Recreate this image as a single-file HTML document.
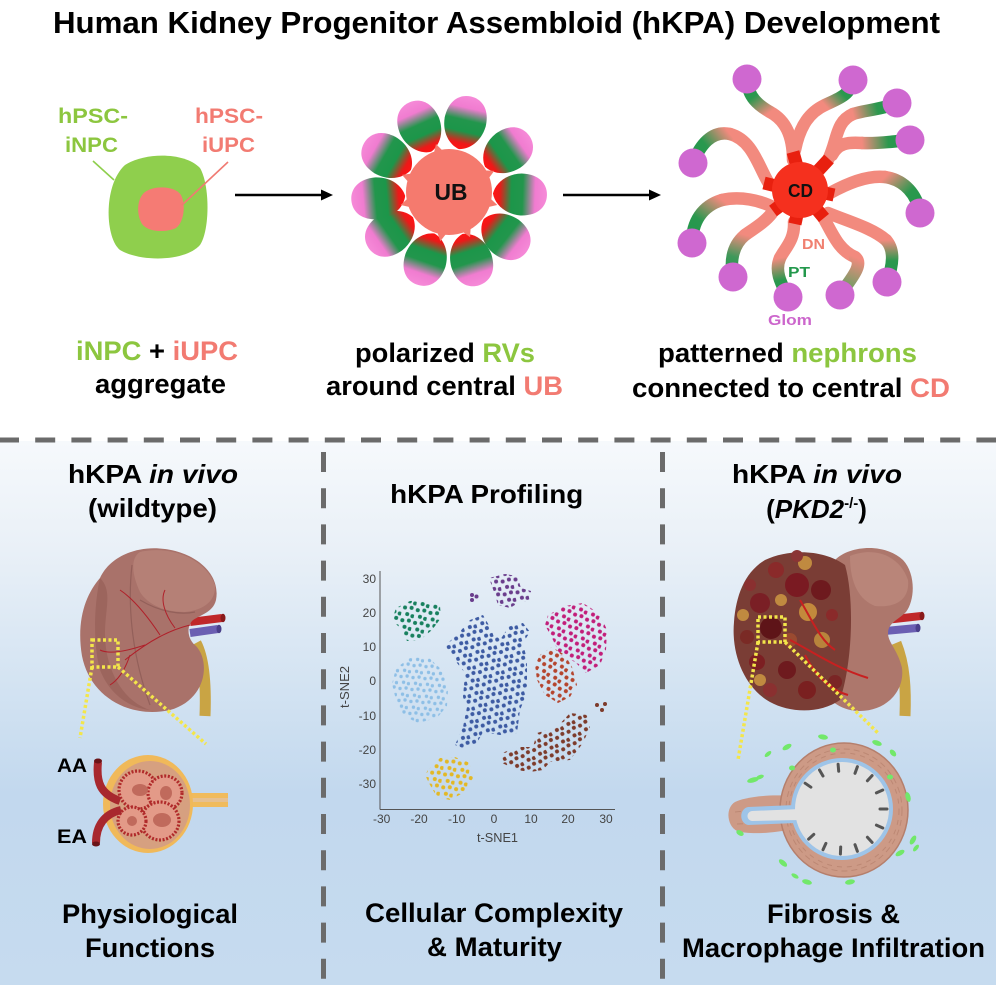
<!DOCTYPE html>
<html><head><meta charset="utf-8"><style>
html,body{margin:0;padding:0;background:#fff;}
svg{display:block;}
text{font-family:"Liberation Sans",Arial,sans-serif;}
</style></head><body>
<svg width="996" height="996" viewBox="0 0 996 996" xmlns="http://www.w3.org/2000/svg">
<defs>
 <linearGradient id="bg" x1="0" y1="0" x2="0" y2="1">
  <stop offset="0" stop-color="#f6f9fc"/><stop offset="0.2" stop-color="#e9f0f7"/>
  <stop offset="0.45" stop-color="#d3e3f2"/><stop offset="0.65" stop-color="#c2d8ee"/>
  <stop offset="1" stop-color="#c6dbef"/>
 </linearGradient>
 <linearGradient id="pet" gradientUnits="userSpaceOnUse" x1="44" y1="0" x2="98" y2="0">
  <stop offset="0" stop-color="#ff1414"/><stop offset="0.12" stop-color="#ee1818"/>
  <stop offset="0.34" stop-color="#1c964a"/><stop offset="0.55" stop-color="#22964c"/>
  <stop offset="0.78" stop-color="#f07cd0"/><stop offset="1" stop-color="#f68ad8"/>
 </linearGradient>
 <linearGradient id="t1" gradientUnits="userSpaceOnUse" x1="770" y1="112" x2="747" y2="80"><stop offset="0" stop-color="#f28a7e"/><stop offset="0.55" stop-color="#2a984e"/><stop offset="1" stop-color="#22984c"/></linearGradient>
 <linearGradient id="t2" gradientUnits="userSpaceOnUse" x1="825" y1="105" x2="853" y2="80"><stop offset="0" stop-color="#f28a7e"/><stop offset="0.55" stop-color="#2a984e"/><stop offset="1" stop-color="#22984c"/></linearGradient>
 <linearGradient id="t3" gradientUnits="userSpaceOnUse" x1="853" y1="114" x2="897" y2="103"><stop offset="0" stop-color="#f28a7e"/><stop offset="0.55" stop-color="#2a984e"/><stop offset="1" stop-color="#22984c"/></linearGradient>
 <linearGradient id="t4" gradientUnits="userSpaceOnUse" x1="862" y1="143" x2="910" y2="140"><stop offset="0" stop-color="#f28a7e"/><stop offset="0.55" stop-color="#2a984e"/><stop offset="1" stop-color="#22984c"/></linearGradient>
 <linearGradient id="t5" gradientUnits="userSpaceOnUse" x1="730" y1="134" x2="693" y2="163"><stop offset="0" stop-color="#f28a7e"/><stop offset="0.55" stop-color="#2a984e"/><stop offset="1" stop-color="#22984c"/></linearGradient>
 <linearGradient id="t6" gradientUnits="userSpaceOnUse" x1="885" y1="177" x2="920" y2="213"><stop offset="0" stop-color="#f28a7e"/><stop offset="0.55" stop-color="#2a984e"/><stop offset="1" stop-color="#22984c"/></linearGradient>
 <linearGradient id="t7" gradientUnits="userSpaceOnUse" x1="722" y1="200" x2="692" y2="243"><stop offset="0" stop-color="#f28a7e"/><stop offset="0.55" stop-color="#2a984e"/><stop offset="1" stop-color="#22984c"/></linearGradient>
 <linearGradient id="t8" gradientUnits="userSpaceOnUse" x1="745" y1="235" x2="733" y2="277"><stop offset="0" stop-color="#f28a7e"/><stop offset="0.55" stop-color="#3f985a"/><stop offset="1" stop-color="#22984c"/></linearGradient>
 <linearGradient id="t9" gradientUnits="userSpaceOnUse" x1="780" y1="258" x2="788" y2="297"><stop offset="0" stop-color="#f28a7e"/><stop offset="0.55" stop-color="#2a984e"/><stop offset="1" stop-color="#22984c"/></linearGradient>
 <linearGradient id="t10" gradientUnits="userSpaceOnUse" x1="855" y1="257" x2="840" y2="295"><stop offset="0" stop-color="#f28a7e"/><stop offset="0.6" stop-color="#8a9a6a"/><stop offset="1" stop-color="#5a985a"/></linearGradient>
 <linearGradient id="t11" gradientUnits="userSpaceOnUse" x1="886" y1="240" x2="887" y2="282"><stop offset="0" stop-color="#f28a7e"/><stop offset="0.5" stop-color="#2a984e"/><stop offset="1" stop-color="#22984c"/></linearGradient>

 <pattern id="pTeal" width="13" height="13" patternUnits="userSpaceOnUse" patternTransform="rotate(12)"><g fill="#17805e"><circle cx="2.5" cy="3" r="2"/><circle cx="9" cy="2" r="2"/><circle cx="6" cy="9" r="2"/><circle cx="11.5" cy="10" r="2"/></g></pattern>
 <pattern id="pPurp" width="13" height="13" patternUnits="userSpaceOnUse" patternTransform="rotate(-9)"><g fill="#6a3d8c"><circle cx="2.5" cy="3" r="2"/><circle cx="9" cy="2" r="2"/><circle cx="6" cy="9" r="2"/><circle cx="11.5" cy="10" r="2"/></g></pattern>
 <pattern id="pMag" width="13" height="13" patternUnits="userSpaceOnUse" patternTransform="rotate(23)"><g fill="#c21e7a"><circle cx="2.5" cy="3" r="2"/><circle cx="9" cy="2" r="2"/><circle cx="6" cy="9" r="2"/><circle cx="11.5" cy="10" r="2"/></g></pattern>
 <pattern id="pLb" width="12" height="12" patternUnits="userSpaceOnUse" patternTransform="rotate(5)"><g fill="#8ebfe6"><circle cx="2.5" cy="3" r="1.7"/><circle cx="8.5" cy="2" r="1.7"/><circle cx="5.5" cy="8.5" r="1.7"/><circle cx="10.5" cy="9.5" r="1.7"/></g></pattern>
 <pattern id="pNavy" width="13" height="13" patternUnits="userSpaceOnUse" patternTransform="rotate(-17)"><g fill="#3d5ba3"><circle cx="2.5" cy="3" r="2"/><circle cx="9" cy="2" r="2"/><circle cx="6" cy="9" r="2"/><circle cx="11.5" cy="10" r="2"/></g></pattern>
 <pattern id="pRust" width="13" height="13" patternUnits="userSpaceOnUse" patternTransform="rotate(31)"><g fill="#b5452e"><circle cx="2.5" cy="3" r="2"/><circle cx="9" cy="2" r="2"/><circle cx="6" cy="9" r="2"/><circle cx="11.5" cy="10" r="2"/></g></pattern>
 <pattern id="pBrown" width="13" height="13" patternUnits="userSpaceOnUse" patternTransform="rotate(-28)"><g fill="#7d3b2b"><circle cx="2.5" cy="3" r="2"/><circle cx="9" cy="2" r="2"/><circle cx="6" cy="9" r="2"/><circle cx="11.5" cy="10" r="2"/></g></pattern>
 <pattern id="pYel" width="13" height="13" patternUnits="userSpaceOnUse" patternTransform="rotate(8)"><g fill="#e3b824"><circle cx="2.5" cy="3" r="2"/><circle cx="9" cy="2" r="2"/><circle cx="6" cy="9" r="2"/><circle cx="11.5" cy="10" r="2"/></g></pattern>
 <path id="petal" d="M44,0 C46,-10 56,-20 72,-21 C90,-21 98,-11 98,0 C98,11 90,21 72,21 C56,20 46,10 44,0Z"/>
</defs>

<!-- backgrounds -->
<rect x="0" y="0" width="996" height="996" fill="#ffffff"/>
<rect x="0" y="441" width="996" height="544" fill="url(#bg)"/>

<!-- dashed separators -->
<line x1="-1" y1="440" x2="996" y2="440" stroke="#6b6b6b" stroke-width="5" stroke-dasharray="20 16.2"/>
<line x1="323.5" y1="452" x2="323.5" y2="980" stroke="#6b6b6b" stroke-width="5" stroke-dasharray="20 16.2"/>
<line x1="662.5" y1="452" x2="662.5" y2="980" stroke="#6b6b6b" stroke-width="5" stroke-dasharray="20 16.2"/>

<!-- Title -->
<text x="496.5" y="33" font-size="31" font-weight="bold" text-anchor="middle" textLength="887" lengthAdjust="spacingAndGlyphs" fill="#000">Human Kidney Progenitor Assembloid (hKPA) Development</text>

<!-- ===== Top left: aggregate ===== -->
<path d="M125,165 C145,152 185,152 200,168 C210,185 210,230 200,245 C185,262 140,262 120,250 C105,238 103,185 125,165Z" fill="#8fcf4d"/>
<path d="M145,192 C155,185 175,186 181,195 C186,205 184,222 176,228 C165,233 148,232 142,224 C136,214 137,198 145,192Z" fill="#f57b74"/>
<line x1="93" y1="161" x2="114" y2="180" stroke="#8fcf4d" stroke-width="1.6"/>
<line x1="228" y1="162" x2="182" y2="205" stroke="#f07a72" stroke-width="1.6"/>
<text x="93" y="123" font-size="21" font-weight="bold" text-anchor="middle" fill="#8cc63f" textLength="70" lengthAdjust="spacingAndGlyphs">hPSC-</text>
<text x="91.5" y="152" font-size="21" font-weight="bold" text-anchor="middle" fill="#8cc63f" textLength="53" lengthAdjust="spacingAndGlyphs">iNPC</text>
<text x="229" y="123" font-size="21" font-weight="bold" text-anchor="middle" fill="#f27b72" textLength="68" lengthAdjust="spacingAndGlyphs">hPSC-</text>
<text x="228.5" y="152" font-size="21" font-weight="bold" text-anchor="middle" fill="#f27b72" textLength="53" lengthAdjust="spacingAndGlyphs">iUPC</text>

<!-- arrows -->
<line x1="235" y1="195" x2="324" y2="195" stroke="#000" stroke-width="2.6"/>
<polygon points="321,189.5 333,195 321,200.5" fill="#000"/>
<line x1="563" y1="195" x2="652" y2="195" stroke="#000" stroke-width="2.6"/>
<polygon points="649,189.5 661,195 649,200.5" fill="#000"/>

<!-- ===== Top middle: RV flower ===== -->
<g transform="translate(449,192)" fill="url(#pet)">
  <use href="#petal" transform="rotate(-114)"/>
  <use href="#petal" transform="rotate(-77)"/>
  <use href="#petal" transform="rotate(-35)"/>
  <use href="#petal" transform="rotate(2)"/>
  <use href="#petal" transform="rotate(38)"/>
  <use href="#petal" transform="rotate(72)"/>
  <use href="#petal" transform="rotate(109)"/>
  <use href="#petal" transform="rotate(145)"/>
  <use href="#petal" transform="rotate(175)"/>
  <use href="#petal" transform="rotate(210)"/>
</g>
<g fill="#f57a6e">
 <circle cx="449" cy="192" r="43"/>
 <polygon points="433.4,155.2 436,144 444.1,152.3"/>
 <polygon points="482.5,170.2 494.3,170.9 487.2,180.3"/>
 <polygon points="488.7,196.9 497.3,205 485.8,207.6"/>
 <polygon points="470.8,225.6 470.1,237.3 460.7,230.2"/>
 <polygon points="447.6,232 440.3,241.2 436.6,230"/>
 <polygon points="412.2,207.6 400.7,205 409.3,196.9"/>
 <polygon points="409.9,183.7 402,174.9 413.7,173.2"/>
</g>
<text x="451" y="200" font-size="23" font-weight="bold" text-anchor="middle" fill="#111" textLength="33" lengthAdjust="spacingAndGlyphs">UB</text>

<!-- ===== Top right: nephrons around CD ===== -->
<g fill="none" stroke-width="12.5" stroke-linecap="round">
 <g stroke="#f28a7e">
  <path d="M793,160 C793,135 785,120 770,112"/>
  <path d="M795,150 C800,125 810,112 825,105"/>
  <path d="M828,160 C838,140 835,122 853,114"/>
  <path d="M832,155 C838,143 848,142 862,143"/>
  <path d="M768,182 C758,165 752,140 730,134"/>
  <path d="M830,193 C848,183 868,175 885,177"/>
  <path d="M775,208 C760,200 740,196 722,200"/>
  <path d="M772,213 C765,222 755,228 745,235"/>
  <path d="M794,222 C795,240 785,248 780,258"/>
  <path d="M823,217 C832,232 838,250 855,257"/>
  <path d="M828,213 C850,222 872,228 886,240"/>
 </g>
 <path stroke="url(#t1)" d="M770,112 C758,105 748,97 747,80"/>
 <path stroke="url(#t2)" d="M825,105 C840,98 850,95 853,80"/>
 <path stroke="url(#t3)" d="M853,114 C865,110 880,110 897,103"/>
 <path stroke="url(#t4)" d="M862,143 C878,144 895,141 910,140"/>
 <path stroke="url(#t5)" d="M730,134 C712,130 700,145 693,163"/>
 <path stroke="url(#t6)" d="M885,177 C905,180 917,195 920,213"/>
 <path stroke="url(#t7)" d="M722,200 C702,206 692,222 692,243"/>
 <path stroke="url(#t8)" d="M745,235 C733,245 730,260 733,277"/>
 <path stroke="url(#t9)" d="M780,258 C774,272 782,285 788,297"/>
 <path stroke="url(#t10)" d="M855,257 C865,265 848,282 840,295"/>
 <path stroke="url(#t11)" d="M886,240 C895,250 893,265 887,282"/>
</g>
<g stroke="#e8200f" stroke-width="13" stroke-linecap="butt">
 <line x1="798" y1="170" x2="793" y2="152"/>
 <line x1="816" y1="173" x2="829" y2="159"/>
 <line x1="820" y1="192" x2="834" y2="195"/>
 <line x1="814" y1="206" x2="824" y2="218"/>
 <line x1="798" y1="210" x2="795" y2="224"/>
 <line x1="785" y1="202" x2="773" y2="211"/>
 <line x1="780" y1="187" x2="764" y2="183"/>
</g>
<circle cx="800" cy="190" r="28" fill="#f5301e"/>
<text x="800.5" y="197" font-size="18" font-weight="bold" text-anchor="middle" fill="#111" textLength="25" lengthAdjust="spacingAndGlyphs">CD</text>
<g fill="#cf68d0">
 <circle cx="747" cy="79" r="14.5"/><circle cx="853" cy="80" r="14.5"/>
 <circle cx="897" cy="103" r="14.5"/><circle cx="910" cy="140" r="14.5"/>
 <circle cx="693" cy="163" r="14.5"/><circle cx="920" cy="213" r="14.5"/>
 <circle cx="692" cy="243" r="14.5"/><circle cx="733" cy="277" r="14.5"/>
 <circle cx="788" cy="297" r="14.5"/><circle cx="840" cy="295" r="14.5"/>
 <circle cx="887" cy="282" r="14.5"/>
</g>
<text x="813.5" y="249" font-size="15" font-weight="bold" text-anchor="middle" fill="#f08070" textLength="23" lengthAdjust="spacingAndGlyphs">DN</text>
<text x="799" y="277" font-size="15" font-weight="bold" text-anchor="middle" fill="#23984c" textLength="22" lengthAdjust="spacingAndGlyphs">PT</text>
<text x="790" y="325" font-size="15" font-weight="bold" text-anchor="middle" fill="#cc66cc" textLength="44" lengthAdjust="spacingAndGlyphs">Glom</text>

<!-- Top captions -->
<text x="157" y="360" font-size="27" font-weight="bold" text-anchor="middle" textLength="162" lengthAdjust="spacingAndGlyphs"><tspan fill="#8cc63f">iNPC</tspan><tspan fill="#000"> + </tspan><tspan fill="#f27b72">iUPC</tspan></text>
<text x="160.5" y="393" font-size="27" font-weight="bold" text-anchor="middle" fill="#000" textLength="131" lengthAdjust="spacingAndGlyphs">aggregate</text>
<text x="445" y="362" font-size="27" font-weight="bold" text-anchor="middle" textLength="180" lengthAdjust="spacingAndGlyphs"><tspan fill="#000">polarized </tspan><tspan fill="#8cc63f">RVs</tspan></text>
<text x="444.5" y="395" font-size="27" font-weight="bold" text-anchor="middle" textLength="237" lengthAdjust="spacingAndGlyphs"><tspan fill="#000">around central </tspan><tspan fill="#f27b72">UB</tspan></text>
<text x="787.5" y="362" font-size="27" font-weight="bold" text-anchor="middle" textLength="259" lengthAdjust="spacingAndGlyphs"><tspan fill="#000">patterned </tspan><tspan fill="#8cc63f">nephrons</tspan></text>
<text x="791" y="397" font-size="27" font-weight="bold" text-anchor="middle" textLength="318" lengthAdjust="spacingAndGlyphs"><tspan fill="#000">connected to central </tspan><tspan fill="#f27b72">CD</tspan></text>

<!-- ===== Bottom left ===== -->
<text x="153" y="483" font-size="26" font-weight="bold" text-anchor="middle" fill="#000" textLength="170" lengthAdjust="spacingAndGlyphs">hKPA <tspan font-style="italic">in vivo</tspan></text>
<text x="152.5" y="517" font-size="26" font-weight="bold" text-anchor="middle" fill="#000" textLength="129" lengthAdjust="spacingAndGlyphs">(wildtype)</text>

<!-- left kidney -->
<path d="M190,622 L222,618" stroke="#c0282a" stroke-width="8"/>
<ellipse cx="223" cy="618" rx="2.5" ry="4.2" fill="#8a1a1a"/>
<path d="M190,633 L218,629" stroke="#6b5fb2" stroke-width="8"/>
<ellipse cx="219" cy="629" rx="2.5" ry="4.2" fill="#4a3f8a"/>
<path d="M196,643 C205,660 206,690 205,716" stroke="#c9a444" stroke-width="11" fill="none"/>
<path d="M100,578 C110,556 138,545 165,549 C196,553 221,574 216,600 C213,613 199,615 192,621 C186,628 188,640 196,646 C211,662 206,700 170,710 C130,719 90,697 82,656 C76,620 86,594 100,578Z" fill="#a9726a"/>
<path d="M140,552 C170,545 205,558 215,585 C216,600 205,610 185,612 C165,612 148,605 140,592 C132,575 130,558 140,552Z" fill="#b58076"/>
<path d="M100,578 C95,600 92,640 100,670 C110,695 130,708 150,710 C120,700 104,665 105,630 C106,605 112,590 100,578Z" fill="#976058" opacity="0.7"/>
<path d="M132,565 C128,600 130,650 150,705" stroke="#93605a" stroke-width="1.2" fill="none"/>
<path d="M140,600 C160,612 180,615 195,612" stroke="#93605a" stroke-width="1.2" fill="none"/>
<g stroke="#b0202a" stroke-width="1" fill="none">
 <path d="M190,625 C170,630 150,640 125,660"/>
 <path d="M160,635 C150,620 135,600 120,590"/>
 <path d="M145,645 C130,650 110,655 100,650"/>
 <path d="M175,628 C165,615 160,600 165,590"/>
 <path d="M130,655 C125,670 118,680 110,685"/>
</g>
<g stroke="#f3e64a" stroke-width="3.5" fill="none" stroke-dasharray="3 2.5">
 <rect x="92" y="640" width="26" height="27"/>
 <line x1="92" y1="667" x2="80" y2="738"/>
 <line x1="118" y1="667" x2="206" y2="744"/>
</g>

<!-- glomerulus -->
<path d="M185,793 L228,793 L228,807 L185,807Z" fill="#f0bb5c"/>
<path d="M185,798 L228,798 L228,802 L185,802Z" fill="#e6c090"/>
<ellipse cx="148" cy="804" rx="45" ry="49" fill="#f0b95a"/>
<ellipse cx="150" cy="805" rx="40" ry="44" fill="#d6a080"/>
<g stroke="#b02a2a" stroke-width="3.2" stroke-dasharray="2 1.6" fill="#e39a88">
 <circle cx="138" cy="790" r="19"/>
 <circle cx="165" cy="793" r="17"/>
 <circle cx="160" cy="821" r="19"/>
 <circle cx="132" cy="821" r="14"/>
</g>
<g fill="#c06a5c">
 <ellipse cx="140" cy="790" rx="8" ry="6"/>
 <ellipse cx="162" cy="820" rx="9" ry="7"/>
 <ellipse cx="166" cy="793" rx="6" ry="7"/>
 <ellipse cx="132" cy="821" rx="5" ry="5"/>
</g>
<path d="M98,762 C96,782 100,794 120,801" stroke="#a8282e" stroke-width="8" fill="none"/>
<ellipse cx="98" cy="761" rx="4" ry="2.5" fill="#6a1418"/>
<path d="M96,843 C96,826 104,814 121,810" stroke="#a8282e" stroke-width="8" fill="none"/>
<ellipse cx="96" cy="844" rx="4" ry="2.5" fill="#6a1418"/>
<text x="72" y="772" font-size="19" font-weight="bold" text-anchor="middle" fill="#000" textLength="30" lengthAdjust="spacingAndGlyphs">AA</text>
<text x="72" y="843" font-size="19" font-weight="bold" text-anchor="middle" fill="#000" textLength="30" lengthAdjust="spacingAndGlyphs">EA</text>

<text x="150" y="923" font-size="27" font-weight="bold" text-anchor="middle" fill="#000" textLength="176" lengthAdjust="spacingAndGlyphs">Physiological</text>
<text x="150" y="957" font-size="27" font-weight="bold" text-anchor="middle" fill="#000" textLength="130" lengthAdjust="spacingAndGlyphs">Functions</text>

<!-- ===== Bottom middle: t-SNE ===== -->
<text x="486.7" y="503" font-size="26" font-weight="bold" text-anchor="middle" fill="#000" textLength="193" lengthAdjust="spacingAndGlyphs">hKPA Profiling</text>
<line x1="380" y1="571" x2="380" y2="809.5" stroke="#555" stroke-width="1"/>
<line x1="380" y1="809.5" x2="615" y2="809.5" stroke="#555" stroke-width="1"/>
<g font-size="12" fill="#444" text-anchor="end">
 <text x="376" y="583">30</text><text x="376" y="617">20</text><text x="376" y="651">10</text>
 <text x="376" y="685">0</text><text x="376" y="720">-10</text><text x="376" y="754">-20</text>
 <text x="376" y="788">-30</text>
</g>
<g font-size="12" fill="#444" text-anchor="middle">
 <text x="381.7" y="823">-30</text><text x="419" y="823">-20</text><text x="456.7" y="823">-10</text>
 <text x="494" y="823">0</text><text x="531" y="823">10</text><text x="568" y="823">20</text>
 <text x="606" y="823">30</text>
</g>
<text x="497.5" y="842" font-size="13" fill="#444" text-anchor="middle" textLength="41" lengthAdjust="spacingAndGlyphs">t-SNE1</text>
<text transform="translate(349,687) rotate(-90)" x="0" y="0" font-size="13" fill="#444" text-anchor="middle" textLength="42" lengthAdjust="spacingAndGlyphs">t-SNE2</text>

<path d="M396,608 L410,601 L428,600 L440,606 L441,618 L432,630 L420,640 L407,641 L400,628 L392,620Z" fill="url(#pTeal)"/>
<path d="M489,578 L505,574 L517,576 L521,588 L531,591 L530,600 L518,603 L510,608 L498,605 L494,592Z" fill="url(#pPurp)"/>
<circle cx="472" cy="600" r="2" fill="#6a3d8c"/><circle cx="476.5" cy="596.5" r="2" fill="#6a3d8c"/><circle cx="472" cy="595" r="2" fill="#6a3d8c"/>
<path d="M548,615 L565,606 L583,603 L600,614 L607,630 L606,650 L600,665 L586,673 L575,662 L560,655 L553,640 L545,625Z" fill="url(#pMag)"/>
<path d="M396,668 L410,658 L428,657 L442,670 L448,690 L447,706 L437,718 L418,723 L404,716 L396,700 L392,684Z" fill="url(#pLb)"/>
<path d="M443,647 L457,635 L470,620 L483,615 L490,627 L500,640 L510,625 L523,623 L530,632 L523,643 L527,660 L527,693 L520,710 L517,733 L500,735 L483,732 L477,743 L463,748 L455,745 L463,727 L467,707 L463,697 L465,673 L457,663 L450,650Z" fill="url(#pNavy)"/>
<path d="M540,655 L552,647 L565,655 L572,667 L577,685 L570,697 L558,703 L545,695 L537,680 L535,665Z" fill="url(#pRust)"/>
<path d="M537,733 L557,727 L570,713 L587,715 L590,727 L583,743 L570,760 L550,762 L543,770 L530,772 L517,770 L502,763 L502,753 L517,747 L533,747Z" fill="url(#pBrown)"/>
<circle cx="597" cy="705" r="2" fill="#7d3b2b"/><circle cx="602" cy="710" r="2" fill="#7d3b2b"/><circle cx="605" cy="704" r="2" fill="#7d3b2b"/>
<path d="M428,770 L440,758 L455,757 L470,763 L473,778 L465,792 L450,800 L437,797 L430,785 L425,775Z" fill="url(#pYel)"/>

<text x="494" y="922" font-size="27" font-weight="bold" text-anchor="middle" fill="#000" textLength="258" lengthAdjust="spacingAndGlyphs">Cellular Complexity</text>
<text x="494.5" y="956" font-size="27" font-weight="bold" text-anchor="middle" fill="#000" textLength="135" lengthAdjust="spacingAndGlyphs">&amp; Maturity</text>

<!-- ===== Bottom right ===== -->
<text x="817" y="483" font-size="26" font-weight="bold" text-anchor="middle" fill="#000" textLength="170" lengthAdjust="spacingAndGlyphs">hKPA <tspan font-style="italic">in vivo</tspan></text>
<text x="816.5" y="518" font-size="26" font-weight="bold" text-anchor="middle" fill="#000">(<tspan font-style="italic">PKD2</tspan><tspan font-size="15" dy="-10">-/-</tspan><tspan dy="10">)</tspan></text>

<!-- PKD kidney -->
<path d="M885,620 L921,616" stroke="#c0282a" stroke-width="8"/>
<ellipse cx="922" cy="616" rx="2.5" ry="4.2" fill="#8a1a1a"/>
<path d="M885,631 L917,628" stroke="#6b5fb2" stroke-width="8"/>
<ellipse cx="918" cy="628" rx="2.5" ry="4.2" fill="#4a3f8a"/>
<path d="M896,643 C905,665 906,690 905,716" stroke="#c9a444" stroke-width="11" fill="none"/>
<path d="M835,560 C850,545 885,543 903,560 C916,574 915,600 906,612 C898,620 888,623 888,633 C888,643 898,650 902,668 C905,692 885,712 858,711 C840,710 825,700 820,680Z" fill="#ad776c"/>
<path d="M850,556 C875,546 900,556 908,580 C910,600 895,608 875,606 C860,600 850,585 850,556Z" fill="#b98579"/>
<path d="M765,560 C790,548 825,550 845,565 C855,600 852,665 840,700 C820,714 790,713 770,702 C745,688 731,655 734,622 C736,595 745,572 765,560Z" fill="#7a3d35"/>
<g>
 <circle cx="797" cy="585" r="12" fill="#7a1a22"/><circle cx="821" cy="590" r="10" fill="#6e1a1e"/>
 <circle cx="776" cy="570" r="8" fill="#8a2a2a"/><circle cx="760" cy="603" r="10" fill="#7a1f25"/>
 <circle cx="771" cy="628" r="11" fill="#5e1418"/><circle cx="747" cy="637" r="7" fill="#7a2a25"/>
 <circle cx="757" cy="662" r="8" fill="#7c1f22"/><circle cx="787" cy="670" r="9" fill="#6e1a1e"/>
 <circle cx="807" cy="690" r="9" fill="#7a2020"/><circle cx="770" cy="690" r="7" fill="#8a3030"/>
 <circle cx="805" cy="563" r="7" fill="#c08a40"/><circle cx="808" cy="612" r="9" fill="#c3893c"/>
 <circle cx="781" cy="600" r="6" fill="#c08a40"/><circle cx="743" cy="615" r="6" fill="#c08a40"/>
 <circle cx="822" cy="640" r="8" fill="#b8843c"/><circle cx="760" cy="680" r="6" fill="#c08a40"/>
 <circle cx="790" cy="640" r="7" fill="#9a4a30"/><circle cx="832" cy="615" r="6" fill="#8a2a2a"/>
 <circle cx="797" cy="556" r="6" fill="#8a3535"/><circle cx="835" cy="682" r="7" fill="#7a2525"/>
 <circle cx="750" cy="585" r="6" fill="#8a3030"/>
</g>
<g stroke="#c82020" stroke-width="2" fill="none">
 <path d="M790,640 C810,650 835,668 868,678"/>
 <path d="M805,655 C815,675 830,690 848,695"/>
 <path d="M800,600 C812,620 820,640 835,650"/>
</g>
<g stroke="#f3e64a" stroke-width="3.5" fill="none" stroke-dasharray="3 2.5">
 <rect x="758" y="617" width="27" height="25"/>
 <line x1="758" y1="642" x2="738" y2="760"/>
 <line x1="785" y1="642" x2="878" y2="733"/>
</g>

<!-- cyst cross-section -->
<path d="M792,796 C770,794 745,797 735,802 C725,808 727,826 737,831 C750,835 775,833 792,829Z" fill="#cd9a86"/>
<ellipse cx="844" cy="810" rx="64" ry="67" fill="#cd9a86"/>
<ellipse cx="844" cy="810" rx="64" ry="67" fill="none" stroke="#b57f6c" stroke-width="1.5"/>
<g stroke="#b98470" stroke-width="1" fill="none" opacity="0.8">
 <ellipse cx="844" cy="810" rx="58" ry="61" stroke-dasharray="6 4"/>
 <ellipse cx="844" cy="810" rx="55" ry="57" stroke-dasharray="5 5"/>
 <path d="M735,812 L790,806" stroke-dasharray="6 4"/>
 <path d="M737,824 L790,822" stroke-dasharray="6 4"/>
</g>
<ellipse cx="842" cy="809" rx="51" ry="51" fill="#9ec4e8"/>
<path d="M796,805 L748,807 C739,809 739,823 748,825 L796,823Z" fill="#9ec4e8"/>
<ellipse cx="842" cy="809" rx="47" ry="47" fill="#e2e2e2"/>
<path d="M800,809 L752,811 C746,812 746,820 752,821 L800,820Z" fill="#e2e2e2"/>
<g stroke="#555" stroke-width="3" stroke-linecap="round">
 <line x1="823" y1="776" x2="819.5" y2="770"/>
 <line x1="838.7" y1="771.2" x2="838.1" y2="764.2"/>
 <line x1="855" y1="773.3" x2="857.4" y2="766.7"/>
 <line x1="867.4" y1="780.8" x2="872.1" y2="775.6"/>
 <line x1="876.4" y1="792.9" x2="882.8" y2="790"/>
 <line x1="880" y1="809" x2="887" y2="809"/>
 <line x1="876.4" y1="825.1" x2="882.8" y2="828"/>
 <line x1="867.4" y1="837.2" x2="872.1" y2="842.4"/>
 <line x1="855" y1="844.7" x2="857.4" y2="851.3"/>
 <line x1="840.7" y1="847" x2="840.4" y2="854"/>
 <line x1="825.9" y1="843.4" x2="823" y2="849.8"/>
 <line x1="813.8" y1="834.4" x2="808.6" y2="839.1"/>
 <line x1="810.9" y1="787.2" x2="805.1" y2="783.2"/>
</g>
<g fill="#72e86a">
 <ellipse cx="787" cy="747" rx="5" ry="2.5" transform="rotate(-30 787 747)"/>
 <ellipse cx="823" cy="737" rx="5" ry="2.5" transform="rotate(10 823 737)"/>
 <ellipse cx="833" cy="750" rx="3" ry="2.5"/>
 <ellipse cx="877" cy="743" rx="5" ry="2.5" transform="rotate(20 877 743)"/>
 <ellipse cx="893" cy="753" rx="4" ry="2.5" transform="rotate(50 893 753)"/>
 <ellipse cx="908" cy="797" rx="5" ry="2.5" transform="rotate(75 908 797)"/>
 <ellipse cx="913" cy="840" rx="5" ry="2.5" transform="rotate(-60 913 840)"/>
 <ellipse cx="900" cy="853" rx="5" ry="2.5" transform="rotate(-30 900 853)"/>
 <ellipse cx="850" cy="882" rx="5" ry="2.5" transform="rotate(-10 850 882)"/>
 <ellipse cx="807" cy="882" rx="5" ry="2.5" transform="rotate(15 807 882)"/>
 <ellipse cx="783" cy="863" rx="5" ry="2.5" transform="rotate(40 783 863)"/>
 <ellipse cx="740" cy="833" rx="4" ry="2.5" transform="rotate(30 740 833)"/>
 <ellipse cx="753" cy="780" rx="6" ry="2.5" transform="rotate(-15 753 780)"/>
 <ellipse cx="792" cy="768" rx="3" ry="2.5"/>
 <ellipse cx="890" cy="777" rx="3" ry="2.5"/>
 <ellipse cx="768" cy="754" rx="4" ry="2" transform="rotate(-40 768 754)"/>
 <ellipse cx="916" cy="848" rx="4" ry="2" transform="rotate(-50 916 848)"/>
 <ellipse cx="760" cy="777" rx="4" ry="2" transform="rotate(-20 760 777)"/>
 <ellipse cx="795" cy="876" rx="4" ry="2" transform="rotate(30 795 876)"/>
</g>

<text x="833.5" y="923" font-size="27" font-weight="bold" text-anchor="middle" fill="#000" textLength="133" lengthAdjust="spacingAndGlyphs">Fibrosis &amp;</text>
<text x="833.5" y="957" font-size="27" font-weight="bold" text-anchor="middle" fill="#000" textLength="303" lengthAdjust="spacingAndGlyphs">Macrophage Infiltration</text>
</svg>
</body></html>
